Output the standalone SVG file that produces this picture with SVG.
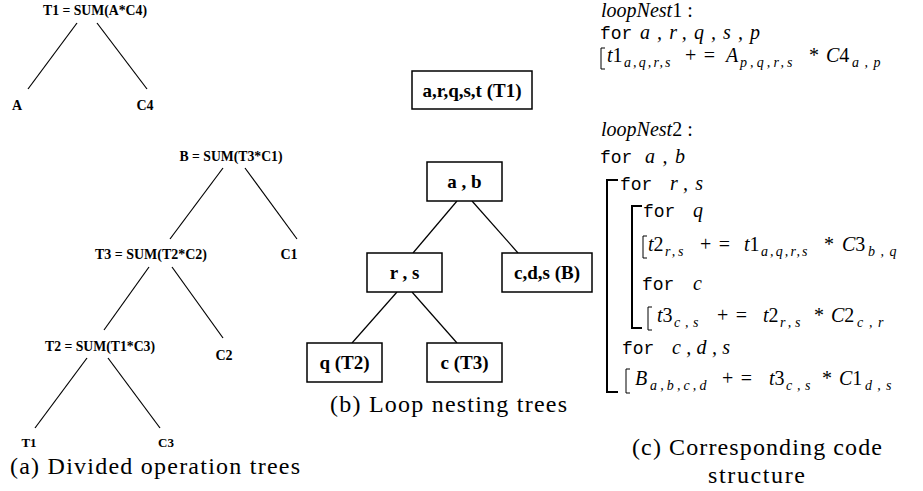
<svg xmlns="http://www.w3.org/2000/svg" width="923" height="491" viewBox="0 0 923 491">
<style>
  .lbl { font-family: "Liberation Serif", "Times New Roman", "DejaVu Serif", serif; font-weight: bold; font-size: 14px; text-anchor: middle; fill: #000; }
  .bt { font-family: "Liberation Serif", "Times New Roman", "DejaVu Serif", serif; font-weight: bold; font-size: 19px; text-anchor: middle; fill: #000; }
  .box { fill: #fff; stroke: #000; stroke-width: 1.5; }
  .edge { stroke: #000; stroke-width: 1.2; fill: none; }
  .cap { font-family: "Liberation Serif", "Times New Roman", "DejaVu Serif", serif; font-size: 24px; fill: #000; }
  .m { font-family: "Liberation Serif", "Times New Roman", "DejaVu Serif", serif; font-style: italic; font-size: 20px; fill: #000; }
  .rm { font-style: normal; }
  .sb { font-family: "Liberation Serif", "Times New Roman", "DejaVu Serif", serif; font-style: italic; font-size: 14px; letter-spacing: 1.5px; fill: #000; }
  .tt { font-family: "Liberation Mono", "DejaVu Sans Mono", monospace; font-size: 18px; fill: #000; }
  .op { font-family: "Liberation Serif", "Times New Roman", "DejaVu Serif", serif; font-size: 20px; fill: #000; letter-spacing: 1px; }
  .brk { stroke: #000; stroke-width: 1; fill: none; }
  .bbrk { stroke: #000; stroke-width: 2; fill: none; }
</style>

<g id="connectors">
  <line class="edge" x1="77" y1="23" x2="28" y2="89"/>
  <line class="edge" x1="97" y1="23" x2="147" y2="89"/>
  <line class="edge" x1="223" y1="168" x2="170" y2="239"/>
  <line class="edge" x1="245" y1="168" x2="297" y2="239"/>
  <line class="edge" x1="149" y1="267" x2="104" y2="330"/>
  <line class="edge" x1="172" y1="267" x2="223" y2="338"/>
  <line class="edge" x1="87" y1="358" x2="35" y2="428"/>
  <line class="edge" x1="108" y1="358" x2="160" y2="428"/>
  <line class="edge" x1="457" y1="201" x2="413" y2="253"/>
  <line class="edge" x1="472" y1="201" x2="518" y2="253"/>
  <line class="edge" x1="397" y1="292" x2="352" y2="343"/>
  <line class="edge" x1="412" y1="292" x2="457" y2="343"/>
</g>

<!-- (a) Divided operation trees -->
<g id="op-t1"><text class="lbl" x="95" y="15" textLength="104" lengthAdjust="spacingAndGlyphs">T1 = SUM(A*C4)</text></g>
<g id="leaf-a"><text class="lbl" x="17" y="110">A</text></g>
<g id="leaf-c4"><text class="lbl" x="145" y="110">C4</text></g>
<g id="op-b"><text class="lbl" x="231" y="161" textLength="103" lengthAdjust="spacingAndGlyphs">B = SUM(T3*C1)</text></g>
<g id="op-t3"><text class="lbl" x="151" y="259" textLength="112" lengthAdjust="spacingAndGlyphs">T3 = SUM(T2*C2)</text></g>
<g id="leaf-c1"><text class="lbl" x="289" y="259">C1</text></g>
<g id="op-t2"><text class="lbl" x="100" y="351" textLength="110" lengthAdjust="spacingAndGlyphs">T2 = SUM(T1*C3)</text></g>
<g id="leaf-c2"><text class="lbl" x="224" y="360">C2</text></g>
<g id="leaf-t1"><text class="lbl" x="29" y="447" style="font-size:13px">T1</text></g>
<g id="leaf-c3"><text class="lbl" x="166" y="447" style="font-size:13px">C3</text></g>
<text class="cap" x="10" y="474" textLength="290" lengthAdjust="spacing">(a) Divided operation trees</text>

<!-- (b) Loop nesting trees -->
<g id="loop-t1"><rect class="box" x="412" y="71" width="120" height="38"/><text class="bt" x="472" y="97">a,r,q,s,t (T1)</text></g>
<g id="loop-ab"><rect class="box" x="427" y="162" width="75" height="39"/><text class="bt" x="464.5" y="188">a , b</text></g>
<g id="loop-rs"><rect class="box" x="367" y="253" width="75" height="39"/><text class="bt" x="404.5" y="279">r , s</text></g>
<g id="loop-cds"><rect class="box" x="502" y="253" width="90" height="39"/><text class="bt" x="547" y="279">c,d,s (B)</text></g>
<g id="loop-q"><rect class="box" x="307" y="343" width="75" height="39"/><text class="bt" x="344.5" y="369">q (T2)</text></g>
<g id="loop-c"><rect class="box" x="427" y="343" width="75" height="39"/><text class="bt" x="464.5" y="369">c (T3)</text></g>
<text class="cap" x="330" y="412" textLength="237" lengthAdjust="spacing">(b) Loop nesting trees</text>

<!-- (c) Corresponding code structure -->
<g id="code">
  <text class="m" x="601" y="17">loopNest<tspan class="rm">1 :</tspan></text>
  <text class="tt" x="600" y="39">for</text>
  <text class="m" x="640" y="39" textLength="120" lengthAdjust="spacing">a,r,q,s,p</text>
  <path class="brk" d="M605,48 H601 V69 H605"/>
  <text class="m" x="607" y="62">t<tspan class="rm">1</tspan></text>
  <text class="sb" x="624" y="67" textLength="48" lengthAdjust="spacing">a,q,r,s</text>
  <text class="op" x="685" y="62" textLength="31" lengthAdjust="spacing">+=</text>
  <text class="m" x="726" y="62">A</text>
  <text class="sb" x="740" y="67" textLength="54" lengthAdjust="spacing">p,q,r,s</text>
  <text class="op" x="809" y="62">*</text>
  <text class="m" x="826" y="62">C<tspan class="rm">4</tspan></text>
  <text class="sb" x="852" y="67" textLength="30" lengthAdjust="spacing">a,p</text>

  <text class="m" x="601" y="136">loopNest<tspan class="rm">2 :</tspan></text>
  <text class="tt" x="600" y="163">for</text>
  <text class="m" x="645" y="163" textLength="40" lengthAdjust="spacing">a,b</text>
  <path class="bbrk" d="M618,180 H607 V392 H618"/>
  <text class="tt" x="620" y="190">for</text>
  <text class="m" x="670" y="190" textLength="33" lengthAdjust="spacing">r,s</text>
  <path class="bbrk" d="M642,206 H632 V328 H642"/>
  <text class="tt" x="643" y="217">for</text>
  <text class="m" x="693" y="217">q</text>
  <path class="brk" d="M647,236 H643 V258 H647"/>
  <text class="m" x="648" y="251">t<tspan class="rm">2</tspan></text>
  <text class="sb" x="665" y="256" textLength="20" lengthAdjust="spacing">r,s</text>
  <text class="op" x="700" y="251" textLength="31" lengthAdjust="spacing">+=</text>
  <text class="m" x="744" y="251">t<tspan class="rm">1</tspan></text>
  <text class="sb" x="761" y="256" textLength="48" lengthAdjust="spacing">a,q,r,s</text>
  <text class="op" x="824" y="251">*</text>
  <text class="m" x="842" y="251">C<tspan class="rm">3</tspan></text>
  <text class="sb" x="868" y="256" textLength="30" lengthAdjust="spacing">b,q</text>

  <text class="tt" x="642" y="290">for</text>
  <text class="m" x="693" y="290">c</text>
  <path class="brk" d="M652,307 H648 V330 H652"/>
  <text class="m" x="657" y="322">t<tspan class="rm">3</tspan></text>
  <text class="sb" x="674" y="327" textLength="26" lengthAdjust="spacing">c,s</text>
  <text class="op" x="717" y="322" textLength="31" lengthAdjust="spacing">+=</text>
  <text class="m" x="763" y="322">t<tspan class="rm">2</tspan></text>
  <text class="sb" x="780" y="327" textLength="22" lengthAdjust="spacing">r,s</text>
  <text class="op" x="814" y="322">*</text>
  <text class="m" x="831" y="322">C<tspan class="rm">2</tspan></text>
  <text class="sb" x="857" y="327" textLength="28" lengthAdjust="spacing">c,r</text>

  <text class="tt" x="622" y="354">for</text>
  <text class="m" x="672" y="354" textLength="58" lengthAdjust="spacing">c,d,s</text>
  <path class="brk" d="M630,369 H626 V393 H630"/>
  <text class="m" x="635" y="385">B</text>
  <text class="sb" x="650" y="390" textLength="58" lengthAdjust="spacing">a,b,c,d</text>
  <text class="op" x="722" y="385" textLength="31" lengthAdjust="spacing">+=</text>
  <text class="m" x="769" y="385">t<tspan class="rm">3</tspan></text>
  <text class="sb" x="786" y="390" textLength="26" lengthAdjust="spacing">c,s</text>
  <text class="op" x="822" y="385">*</text>
  <text class="m" x="839" y="385">C<tspan class="rm">1</tspan></text>
  <text class="sb" x="865" y="390" textLength="28" lengthAdjust="spacing">d,s</text>
</g>
<text class="cap" x="632" y="455" textLength="250" lengthAdjust="spacing">(c) Corresponding code</text>
<text class="cap" x="708" y="483" textLength="97" lengthAdjust="spacing">structure</text>
</svg>
